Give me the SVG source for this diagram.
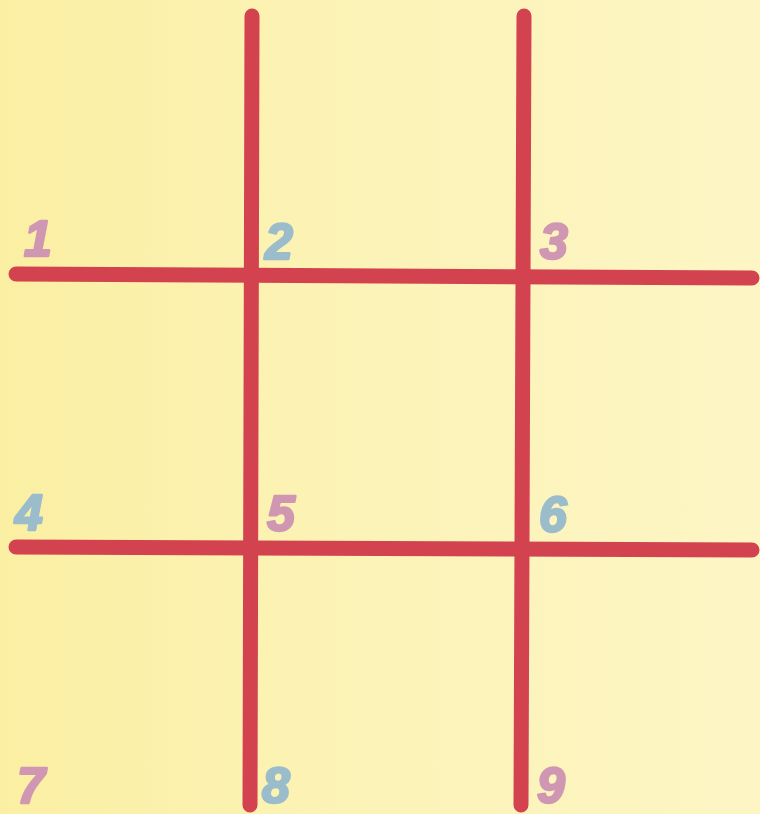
<svg xmlns="http://www.w3.org/2000/svg" width="760" height="814" viewBox="0 0 760 814">
<defs>
<linearGradient id="bg" x1="0" y1="0" x2="1" y2="0">
<stop offset="0" stop-color="#fbefa3"/>
<stop offset="0.5" stop-color="#fcf3b8"/>
<stop offset="1" stop-color="#fdf5c4"/>
</linearGradient>
<style>
.ln{stroke:#d2424f;stroke-width:15;stroke-linecap:round;fill:none}
.n{font-family:"Liberation Sans",Arial,sans-serif;font-weight:bold;font-style:italic;font-size:50px;stroke-width:2.5;stroke-linejoin:round}
.p{fill:#cf97b2;stroke:#cf97b2}
.b{fill:#9bbccb;stroke:#9bbccb}
</style>
</defs>
<rect width="760" height="814" fill="url(#bg)"/>
<g id="connectors">
<line class="ln" x1="252" y1="16" x2="250" y2="805"/>
<line class="ln" x1="524" y1="16" x2="521" y2="805"/>
<line class="ln" x1="16" y1="274" x2="752" y2="278"/>
<line class="ln" x1="16" y1="547" x2="752" y2="550"/>
</g>
<g id="n1"><text class="n p" x="24" y="256">1</text></g>
<g id="n2"><text class="n b" x="265" y="259">2</text></g>
<g id="n3"><text class="n p" x="540" y="259">3</text></g>
<g id="n4"><text class="n b" x="15" y="530">4</text></g>
<g id="n5"><text class="n p" x="267" y="531">5</text></g>
<g id="n6"><text class="n b" x="539" y="532">6</text></g>
<g id="n7"><text class="n p" x="17" y="803">7</text></g>
<g id="n8"><text class="n b" x="262" y="803">8</text></g>
<g id="n9"><text class="n p" x="537" y="803">9</text></g>
</svg>
